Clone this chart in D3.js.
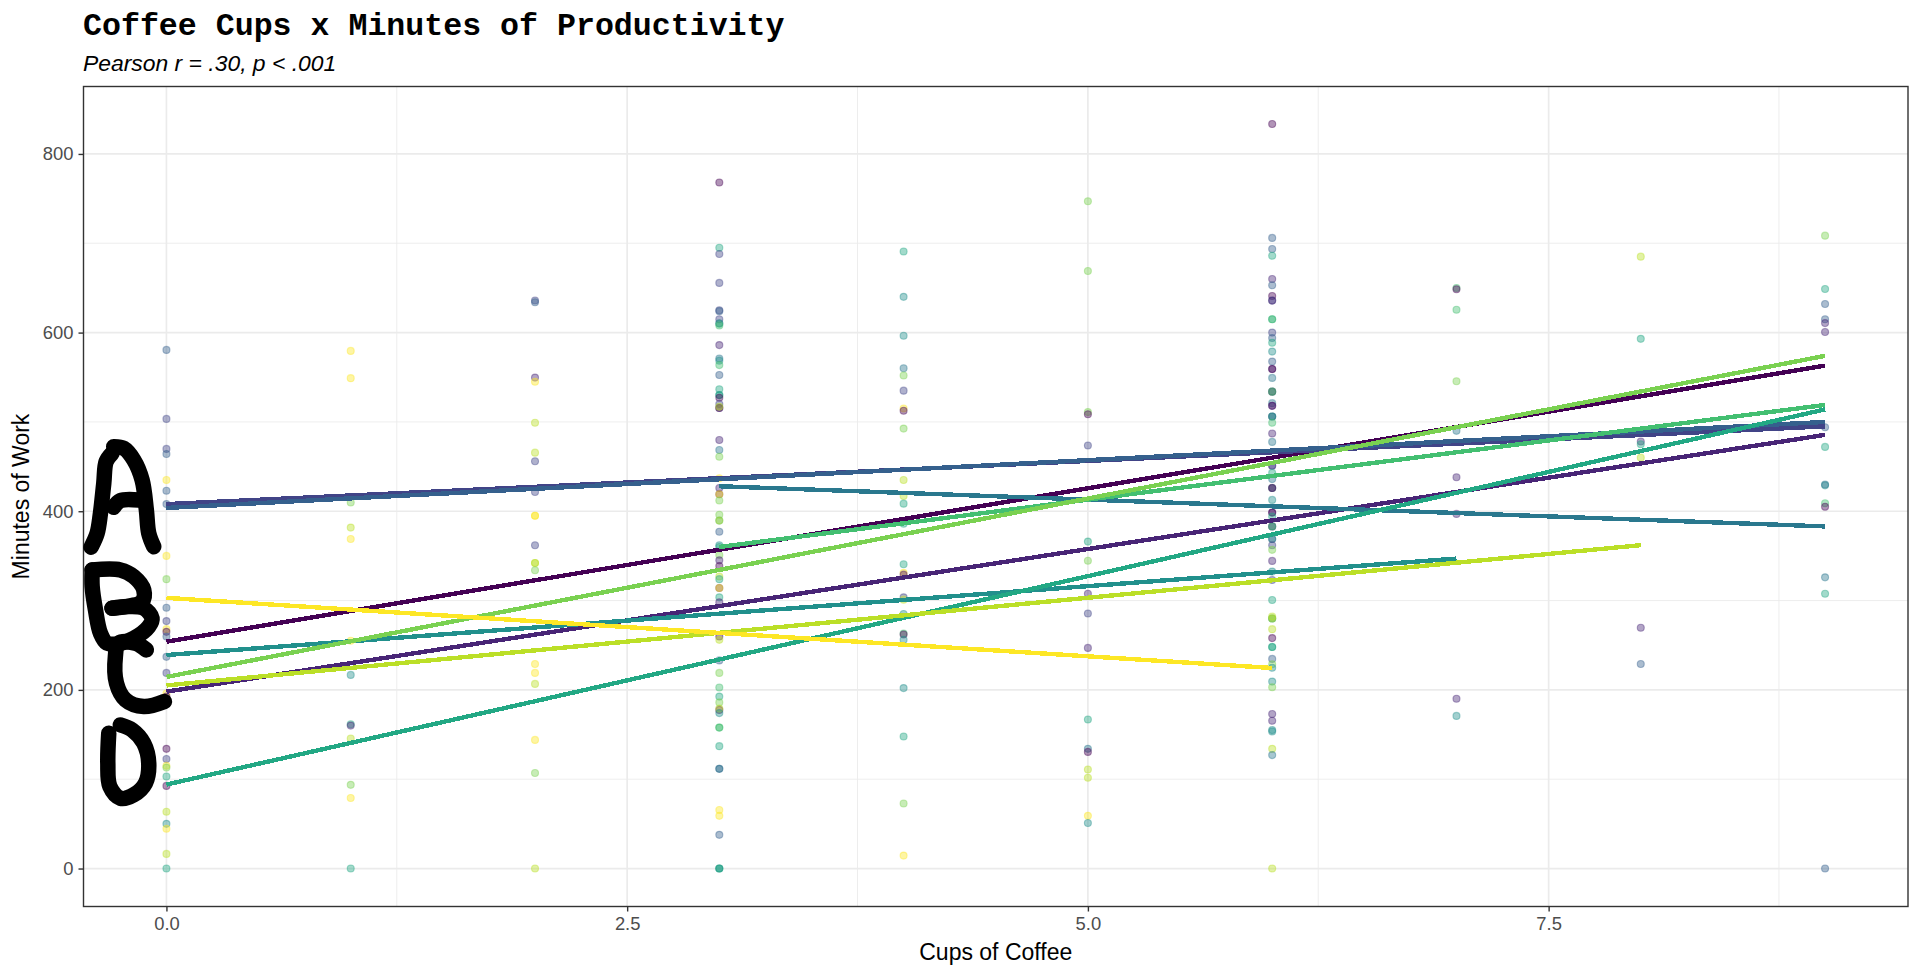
<!DOCTYPE html>
<html>
<head>
<meta charset="utf-8">
<script src="https://cdn.jsdelivr.net/npm/d3@7"></script>
<style>
html,body{margin:0;padding:0;background:#fff;overflow:hidden}
svg{display:block}
</style>
</head>
<body>
<svg id="chart" width="1920" height="970"></svg>
<script>
const titleText = "Coffee Cups x Minutes of Productivity";
const subtitleText = "Pearson r = .30, p < .001";
const xLabel = "Cups of Coffee";
const yLabel = "Minutes of Work";

const groupColors = ["#440154","#482576","#414487","#35608D","#2A788E","#21908C","#22A884","#43BF71","#7AD151","#BBDF27","#FDE725"];

const xTicks = [0,2.5,5,7.5];
const xMinor = [1.25,3.75,6.25,8.75];
const yTicks = [0,200,400,600,800];
const yMinor = [100,300,500,700];

// each pair: [minutes, participant group]
const cups0 = [[580.6,3],[503.4,2],[469.8,2],[464,3],[435,10],[423,3],[408,3],[350,10],[324,8],[292,3],[277,2],[268,10],[265,0],[259.7,3],[237,3],[219,2],[196,10],[192.5,0],[134,0],[122.6,2],[115,10],[113,8],[103,6],[92.5,0],[63.5,9],[50,5],[44.5,10],[16.4,9],[0,6]];
const cups1 = [[579.5,10],[549,10],[409.7,8],[381.7,9],[369,10],[255,10],[216.8,5],[161.6,6],[160,1],[145.5,9],[93.7,8],[79,10],[0,6]];
const cups2 = [[636,2],[634,3],[549.6,1],[545,10],[499,9],[465.6,9],[456,2],[421.6,2],[395,10],[395,10],[362,2],[342,9],[342,9],[334,8],[229,10],[219,10],[206.7,9],[144,10],[107,8],[0,9]];
const cups3 = [[768,0],[695,6],[688,2],[655.6,2],[625,2],[624,3],[615,2],[610.5,3],[610,6],[608,7],[586,1],[571,4],[568.6,5],[563.6,7],[552.6,3],[536.6,6],[530,5],[530,6],[527,0],[520,2],[515.6,0],[515.6,1],[517,9],[479.8,1],[468.6,4],[461,8],[437,10],[426,1],[419,0],[419,10],[412,8],[396,8],[389.5,6],[389.5,9],[377,3],[362,5],[360,6],[351,8],[345,1],[338.7,0],[327,9],[324,6],[314,0],[314,10],[303.6,6],[298,1],[259.7,0],[256,9],[233,3],[219,8],[202.6,7],[192.5,6],[186,8],[177.6,0],[179,9],[174,5],[157.8,7],[157.8,7],[137,6],[111.6,3],[111.6,4],[65.6,10],[59,10],[37.7,3],[0,6],[0,5],[0,6]];
const cups4 = [[690.8,6],[640,5],[596.4,5],[560,4],[552,8],[535,2],[515,10],[512.5,0],[492.5,8],[435,9],[417,9],[408.5,6],[386,6],[340.6,6],[331,10],[329,0],[303.6,2],[301,9],[285,5],[263,7],[262,0],[256,5],[202,5],[147.8,6],[72.8,8],[14.5,10]];
const cups5 = [[747,8],[669,8],[511,8],[508.6,0],[473.6,2],[366,6],[344.6,8],[307.6,1],[285.6,2],[247,1],[166.8,6],[134,4],[130.6,0],[110.8,9],[101.7,9],[59,10],[51,5]];
const cups6 = [[833.6,0],[706,3],[693.6,3],[686,6],[660,1],[653,3],[641,0],[635.8,2],[635.8,1],[615,6],[615,7],[600,2],[594,3],[588.7,6],[578.7,5],[567.5,3],[559.3,1],[559.3,0],[549.3,4],[533.9,6],[533.9,0],[533.9,7],[521,4],[518,0],[518,1],[506,6],[506,2],[506,5],[499,7],[487,1],[477.6,4],[451,1],[451,2],[442.9,6],[436,4],[426,7],[426,0],[426,1],[412.7,5],[398.5,1],[398.5,0],[394,6],[383,0],[383,3],[383,7],[368.9,2],[368.9,5],[362,2],[356.8,8],[344.4,1],[332.4,5],[323,2],[300.7,6],[280,7],[280,5],[280,9],[282,9],[268,9],[258,0],[248,6],[248,6],[234.7,3],[228.7,8],[224.7,5],[209.3,5],[203,8],[173,1],[165.4,1],[153.4,5],[155,5],[134,9],[127,4],[0,9]];
const cups7 = [[650,7],[648.5,0],[625.5,7],[545.6,8],[490,4],[438,1],[397,1],[190,1],[170.9,5]];
const cups8 = [[685,9],[593,6],[478,1],[475,6],[460,9],[269.5,1],[229,3]];
const cups9 = [[708.5,8],[648.8,6],[632,3],[615,3],[610.6,1],[600.7,1],[494,3],[472,6],[429,5],[430,4],[409,7],[405,0],[326,4],[307.6,6],[0,3]];
const cupsColumns = [cups0,cups1,cups2,cups3,cups4,cups5,cups6,cups7,cups8,cups9];

// fitted lines, index = group
const lineFromCups    = [0,0,0,0,3,0,0,3,0,0,0];
const lineToCups      = [9,9,9,9,9,7,9,9,9,8,6];
const lineFromMinutes = [254,198,408,403.7,428,239,94,360,214.5,205,303];
const lineToMinutes   = [563,485.5,495,500,383,347,514,519,574,362,224.5];

// hand-drawn marker letters, traced in data units [cups, minutes]
const letterA = [
  [[-0.409,359.7],[-0.376,375.3],[-0.358,397.7],[-0.340,431.3],[-0.327,455.6],[-0.295,464.9]],
  [[-0.286,472.3],[-0.232,470.5],[-0.177,457.4],[-0.132,435],[-0.109,401.5],[-0.096,375.3],[-0.069,360.4]],
  [[-0.286,404.4],[-0.250,411.9],[-0.150,412.6]]
];
const letterB = [
  [[-0.403,334.3],[-0.250,334.3],[-0.177,326.8],[-0.123,311.9],[-0.132,298.9],[-0.213,293.3],[-0.295,291.4]],
  [[-0.295,291.4],[-0.213,293.3],[-0.123,291.4],[-0.078,280.2],[-0.096,270.9],[-0.177,257.8],[-0.250,252.2],[-0.322,252.2],[-0.358,263.4],[-0.385,289.5],[-0.403,315.6],[-0.403,334.3]]
];
const letterC = [
  [[-0.109,244.8],[-0.168,252.2],[-0.259,252.2],[-0.277,237.3],[-0.271,207.4],[-0.222,188.8],[-0.123,181.3],[-0.011,186.9]]
];
const letterD = [
  [[-0.313,151.5],[-0.318,117.9],[-0.307,91.8],[-0.250,78.7],[-0.177,82.5],[-0.114,95.5],[-0.096,117.9],[-0.123,140.3],[-0.186,155.2],[-0.250,160.8]]
];

const panel = {left:83.5, right:1908, top:86.5, bottom:906.5};
const svg = d3.select("#chart");

const x = d3.scaleLinear().domain([-0.45,9.45]).range([panel.left,panel.right]);
const y = d3.scaleLinear().domain([-42.5,875.5]).range([panel.bottom,panel.top]);

const grid = svg.append("g");
const gridColor = "#EBEBEB";
grid.selectAll(".ymin").data(yMinor).join("line").attr("x1",panel.left).attr("x2",panel.right)
  .attr("y1",d=>y(d)).attr("y2",d=>y(d)).attr("stroke",gridColor).attr("stroke-width",0.9);
grid.selectAll(".xmin").data(xMinor).join("line").attr("y1",panel.top).attr("y2",panel.bottom)
  .attr("x1",d=>x(d)).attr("x2",d=>x(d)).attr("stroke",gridColor).attr("stroke-width",0.9);
grid.selectAll(".ymaj").data(yTicks).join("line").attr("x1",panel.left).attr("x2",panel.right)
  .attr("y1",d=>y(d)).attr("y2",d=>y(d)).attr("stroke",gridColor).attr("stroke-width",1.7);
grid.selectAll(".xmaj").data(xTicks).join("line").attr("y1",panel.top).attr("y2",panel.bottom)
  .attr("x1",d=>x(d)).attr("x2",d=>x(d)).attr("stroke",gridColor).attr("stroke-width",1.7);

// points
const points = cupsColumns.flatMap((col,c)=>col.map(p=>({cups:c,minutes:p[0],group:p[1]})));
svg.append("g").selectAll("circle").data(points).join("circle")
  .attr("cx",d=>x(d.cups)).attr("cy",d=>y(d.minutes)).attr("r",3.5)
  .attr("fill",d=>groupColors[d.group]).attr("fill-opacity",0.42)
  .attr("stroke",d=>groupColors[d.group]).attr("stroke-opacity",0.42).attr("stroke-width",1.1);

// fitted lines
const lineGen = d3.line().x(d=>x(d[0])).y(d=>y(d[1]));
svg.append("g").selectAll("path").data(groupColors).join("path")
  .attr("d",(c,i)=>lineGen([[lineFromCups[i],lineFromMinutes[i]],[lineToCups[i],lineToMinutes[i]]]))
  .attr("fill","none").attr("stroke",d=>d).attr("stroke-width",4.4)
  .attr("shape-rendering","crispEdges");

// panel border
svg.append("rect").attr("x",panel.left).attr("y",panel.top)
  .attr("width",panel.right-panel.left).attr("height",panel.bottom-panel.top)
  .attr("fill","none").attr("stroke","#333333").attr("stroke-width",1.4);

// axes
const tickFont = "18.4px 'Liberation Sans', Arial, sans-serif";
const xAxis = svg.append("g").attr("transform",`translate(0,${panel.bottom})`)
  .call(d3.axisBottom(x).tickValues(xTicks).tickFormat(d3.format(".1f")).tickSize(5).tickPadding(5));
const yAxis = svg.append("g").attr("transform",`translate(${panel.left},0)`)
  .call(d3.axisLeft(y).tickValues(yTicks).tickFormat(d3.format("d")).tickSize(5).tickPadding(5));
[xAxis,yAxis].forEach(a=>{
  a.select(".domain").remove();
  a.selectAll(".tick line").attr("stroke","#333333").attr("stroke-width",1.4);
  a.selectAll("text").style("font",tickFont).attr("fill","#4D4D4D");
});

// marker letters
const inkGen = d3.line().x(d=>x(d[0])).y(d=>y(d[1])).curve(d3.curveCatmullRom.alpha(0.5));
svg.append("g").selectAll("path").data([...letterA,...letterB,...letterC,...letterD]).join("path")
  .attr("d",inkGen).attr("fill","none").attr("stroke","#000").attr("stroke-width",15.5)
  .attr("stroke-linecap","round").attr("stroke-linejoin","round");

// titles
svg.append("text").attr("x",83).attr("y",35)
  .style("font","bold 31.6px 'Liberation Mono', 'Courier New', monospace").attr("fill","#000").text(titleText);
svg.append("text").attr("x",83).attr("y",70.5)
  .style("font","italic 22.9px 'Liberation Sans', Arial, sans-serif").attr("fill","#000").text(subtitleText);
svg.append("text").attr("x",(panel.left+panel.right)/2).attr("y",960).attr("text-anchor","middle")
  .style("font","23px 'Liberation Sans', Arial, sans-serif").attr("fill","#000").text(xLabel);
svg.append("text").attr("transform",`translate(29,${(panel.top+panel.bottom)/2}) rotate(-90)`).attr("text-anchor","middle")
  .style("font","23px 'Liberation Sans', Arial, sans-serif").attr("fill","#000").text(yLabel);
</script>
</body>
</html>
